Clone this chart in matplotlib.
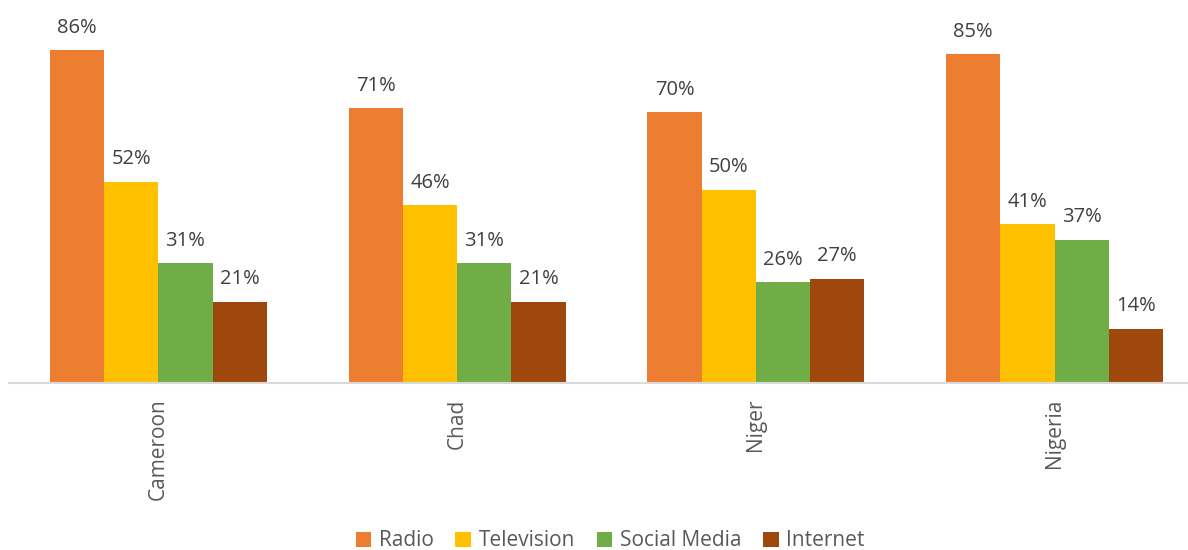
import numpy as np
import matplotlib.pyplot as plt

plt.rcParams['font.family'] = ['Open Sans', 'DejaVu Sans']

countries = ['Cameroon', 'Chad', 'Niger', 'Nigeria']
series = ['Radio', 'Television', 'Social Media', 'Internet']
radio = [86, 71, 70, 85]
television = [52, 46, 50, 41]
social_media = [31, 31, 26, 37]
internet = [21, 21, 27, 14]
colors = ['#ED7D31', '#FFC000', '#70AD47', '#9E480E']

fig = plt.figure(figsize=(11.88, 5.5), dpi=100)
# axes extend a little past the right edge of the figure
ax = fig.add_axes([9 / 1188, 1 - 383 / 550, 1195 / 1188, 383 / 550])

x = np.arange(len(countries))
width = 0.1815
values = [radio, television, social_media, internet]
for i, (name, vals, c) in enumerate(zip(series, values, colors)):
    pos = x + (i - 1.5) * width
    bars = ax.bar(pos, vals, width, color=c, label=name)
    for b, v in zip(bars, vals):
        ax.annotate(f'{v}%', (b.get_x() + b.get_width() / 2, v),
                    xytext=(0, 9), textcoords='offset points',
                    ha='center', va='bottom', fontsize=14.5, color='#404040')

ax.set_xlim(-0.5, 3.5)
ax.set_ylim(0, 99)
ax.set_yticks([])
ax.set_xticks(x)
ax.set_xticklabels(countries, rotation=90, fontsize=15, color='#595959')
ax.tick_params(axis='x', length=0, pad=11)
for s in ['top', 'right', 'left']:
    ax.spines[s].set_visible(False)
ax.spines['bottom'].set_color('#D9D9D9')
ax.spines['bottom'].set_linewidth(1.5)

fig.legend(loc='center', bbox_to_anchor=(610 / 1188, 1 - 541 / 550), ncol=4,
           frameon=False, fontsize=15, handlelength=0.75, handleheight=0.75,
           handletextpad=0.35, columnspacing=1.05, labelcolor='#595959')

fig.savefig('out.png', dpi=100)
